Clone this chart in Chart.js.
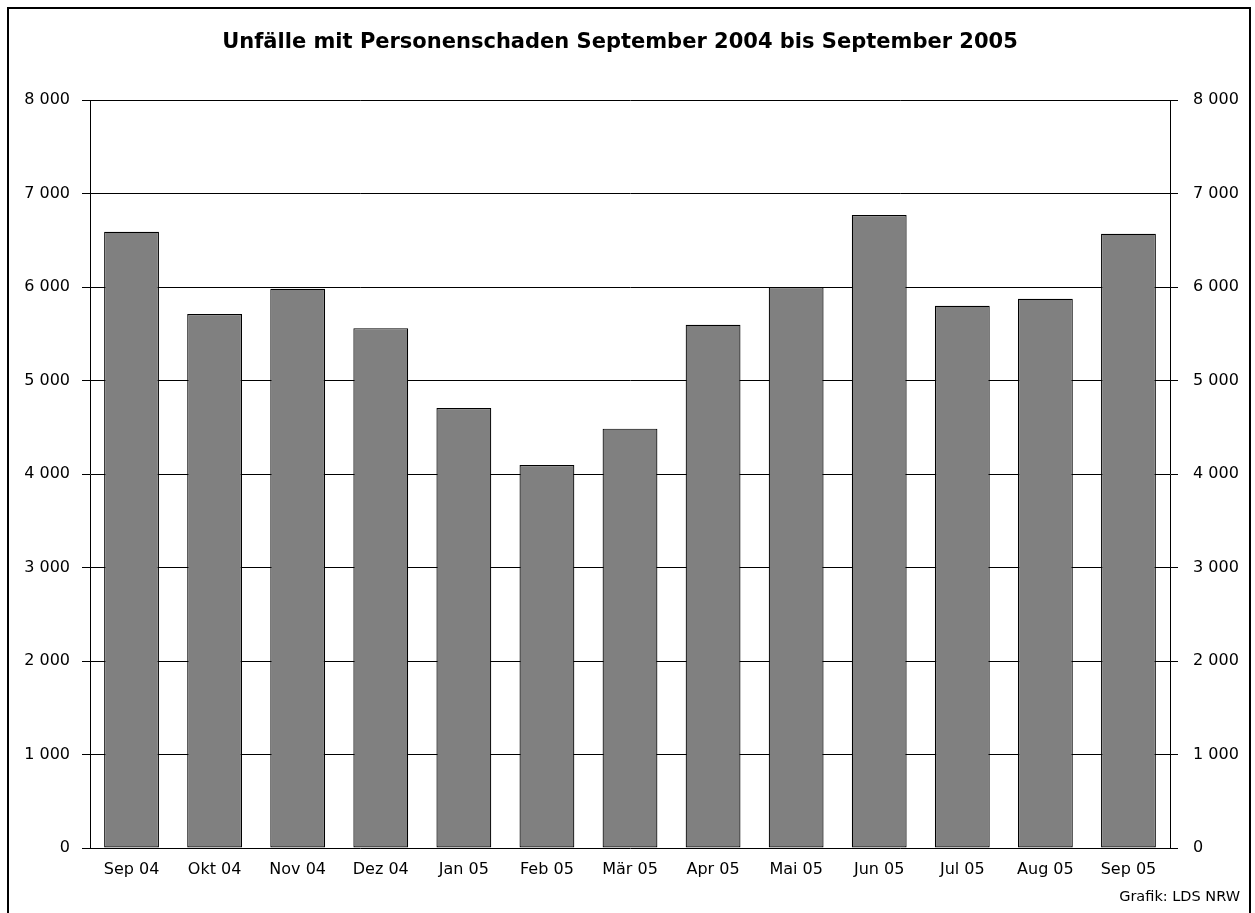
<!DOCTYPE html>
<html><head><meta charset="utf-8">
<script src="https://cdn.jsdelivr.net/npm/chart.js@4/dist/chart.umd.min.js"></script>
<style>html,body{margin:0;padding:0;background:#fff;}#wrap{width:1255px;height:913px;}</style>
</head><body><div id="wrap"><canvas id="c" width="1255" height="913"></canvas></div>
<script>
const categories = ['Sep 04','Okt 04','Nov 04','Dez 04','Jan 05','Feb 05','Mär 05','Apr 05','Mai 05','Jun 05','Jul 05','Aug 05','Sep 05'];
const accidents = [6590, 5710, 5980, 5560, 4705, 4095, 4485, 5595, 6000, 6770, 5800, 5875, 6570];
const yTicks = [0, 1000, 2000, 3000, 4000, 5000, 6000, 7000, 8000];
const titleText = 'Unfälle mit Personenschaden September 2004 bis September 2005';
const sourceText = 'Grafik: LDS NRW';

const fmt = v => String(v).replace(/\B(?=(\d{3})+(?!\d))/g, ' ');
const FONT = "'DejaVu Sans', 'Open Sans', sans-serif";

const framePlugin = {
  id: 'frame',
  beforeDraw(chart) {
    const ctx = chart.ctx;
    ctx.save();
    ctx.fillStyle = '#fff';
    ctx.fillRect(0, 0, chart.width, chart.height);
    ctx.strokeStyle = '#000';
    ctx.lineWidth = 2;
    ctx.strokeRect(8, 8, 1242, 930);
    ctx.restore();
  }
};

const tickCfg = {
  stepSize: 1000,
  color: '#000',
  font: { family: FONT, size: 16 },
  callback: v => yTicks.includes(v) ? fmt(v) : ''
};

new Chart(document.getElementById('c'), {
  type: 'bar',
  data: {
    labels: categories,
    datasets: [{
      data: accidents,
      backgroundColor: '#808080',
      borderColor: '#000',
      borderWidth: 1.2,
      borderSkipped: false,
      categoryPercentage: 1,
      barPercentage: 0.66,
      yAxisID: 'y'
    }]
  },
  plugins: [framePlugin],
  options: {
    responsive: false,
    animation: false,
    layout: { padding: { left: 0, right: 15, top: 0, bottom: 0 } },
    plugins: {
      legend: { display: false },
      tooltip: { enabled: false },
      title: {
        display: true, text: titleText, color: '#000',
        font: { family: FONT, size: 21, weight: 'bold' },
        padding: { top: 30.4, bottom: 44.4 }
      },
      subtitle: {
        display: true, text: sourceText, position: 'bottom', align: 'end', color: '#000',
        font: { family: FONT, size: 14.5 },
        padding: { top: 7.3, bottom: 7.3 }
      }
    },
    scales: {
      x: {
        grid: { display: false, drawTicks: false },
        border: { display: false },
        ticks: { color: '#000', font: { family: FONT, size: 16 }, padding: 12.5, maxRotation: 0 },
        afterFit: s => { s.height = 33; }
      },
      y: {
        position: 'left', min: 0, max: 8000,
        grid: { color: '#000', lineWidth: 1, tickLength: 8, tickColor: '#000' },
        border: { color: '#000', width: 1 },
        ticks: Object.assign({ padding: 12 }, tickCfg),
        afterFit: s => { s.width = 90; }
      },
      y2: {
        position: 'right', min: 0, max: 8000,
        grid: { drawOnChartArea: false, color: '#000', tickLength: 8, tickColor: '#000' },
        border: { color: '#000', width: 1 },
        ticks: Object.assign({ padding: 15 }, tickCfg),
        afterFit: s => { s.width = 70; }
      }
    }
  }
});
</script></body></html>
